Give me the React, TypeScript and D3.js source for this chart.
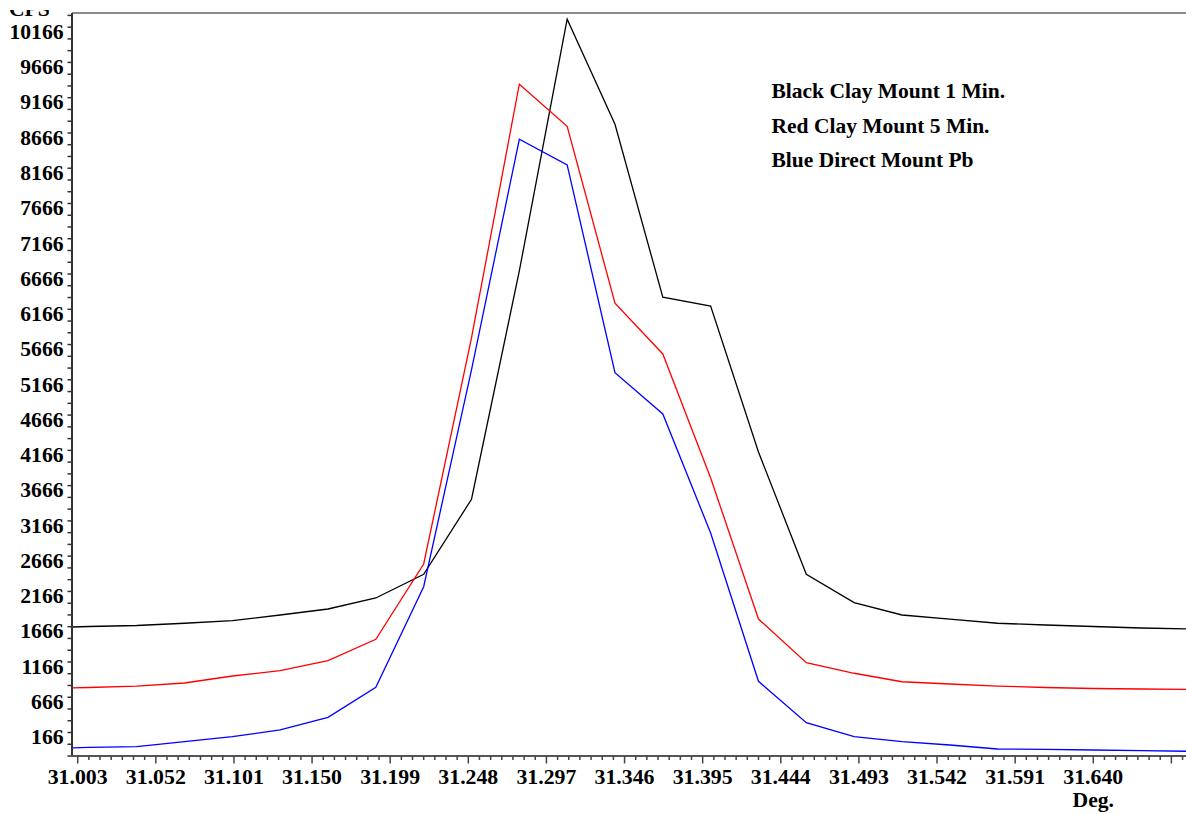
import React from "react";
import * as d3 from "d3";

// ---- data ----
const degrees = [
  30.98, 31.01, 31.04, 31.07, 31.1, 31.13, 31.16, 31.19, 31.22, 31.25, 31.28, 31.31, 31.34,
  31.37, 31.4, 31.43, 31.46, 31.49, 31.52, 31.55, 31.58, 31.61, 31.64, 31.67, 31.7,
];
const blackClay1Min = [
  1815, 1836, 1850, 1882, 1918, 1999, 2084, 2240, 2576, 3640, 6877, 10446, 8957, 6504, 6380,
  4310, 2576, 2174, 1999, 1942, 1882, 1857, 1836, 1815, 1801,
];
const redClay5Min = [
  957, 971, 992, 1035, 1134, 1209, 1351, 1655, 2722, 5927, 9524, 8928, 6419, 5700, 3942, 1942,
  1323, 1173, 1053, 1021, 992, 971, 957, 950, 943,
];
const blueDirectPb = [
  106, 121, 132, 203, 274, 369, 549, 974, 2400, 5473, 8744, 8380, 5435, 4849, 3162, 1059, 472,
  274, 203, 156, 99, 95, 85, 75, 67,
];
const xTickLabels = [
  "31.003", "31.052", "31.101", "31.150", "31.199", "31.248", "31.297", "31.346", "31.395",
  "31.444", "31.493", "31.542", "31.591", "31.640",
];
const yTickLabels = [
  "166", "666", "1166", "1666", "2166", "2666", "3166", "3666", "4166", "4666", "5166", "5666",
  "6166", "6666", "7166", "7666", "8166", "8666", "9166", "9666", "10166",
];
const legendLines = ["Black Clay Mount 1 Min.", "Red Clay Mount 5 Min.", "Blue Direct Mount Pb"];
const seriesColors = ["#000000", "#ff0000", "#0000ff"];

// ---- layout ----
const W = 1186;
const H = 814;
const left = 72;
const top = 13;
const bottom = 756;
const xMin = 30.99942;
const xMax = 31.7;
const yMax = 10534;
const FONT = "'Liberation Serif', 'Times New Roman', serif";

export default function App() {
  const x = d3.scaleLinear().domain([xMin, xMax]).range([left, left + (xMax - xMin) * 1594.3]);
  const y = d3.scaleLinear().domain([0, yMax]).range([bottom, top]);

  const series = [blackClay1Min, redClay5Min, blueDirectPb];
  const line = d3
    .line<number>()
    .x((_, i) => x(degrees[i]))
    .y((d) => y(d));

  // y ticks every 500/3 units
  const yStep = 500 / 3;
  const yTicks: number[] = [];
  for (let k = 0; k * yStep <= yMax; k++) yTicks.push(k * yStep);

  // x ticks every 0.007 deg
  const xTicks: { v: number; major: boolean }[] = [];
  for (let k = 0; ; k++) {
    const v = 31.003 + 0.007 * k;
    if (x(v) > W + 2) break;
    xTicks.push({ v, major: k % 7 === 0 });
  }

  return (
    <svg
      width={W}
      height={H}
      style={{ position: "absolute", left: 0, top: 0, background: "#fff" }}
      fontFamily={FONT}
      fontWeight="bold"
    >
      <defs>
        <clipPath id="plot">
          <rect x={left} y={top} width={W - left + 10} height={bottom - top} />
        </clipPath>
        <clipPath id="topclip">
          <rect x={0} y={10} width={200} height={40} />
        </clipPath>
      </defs>
      <rect x={0} y={0} width={W} height={H} fill="#fff" />

      {/* top border */}
      <line x1={left} x2={W} y1={top} y2={top} stroke="#666" strokeWidth={1.5} />

      {/* data lines */}
      <g clipPath="url(#plot)">
        {series.map((s, i) => (
          <path key={i} d={line(s) || ""} fill="none" stroke={seriesColors[i]} strokeWidth={1.3} />
        ))}
      </g>

      {/* y axis */}
      <line x1={left} x2={left} y1={top} y2={bottom} stroke="#333" strokeWidth={2} />
      {yTicks.map((v, k) => (
        <line key={k} x1={left - 4.5} x2={left} y1={y(v)} y2={y(v)} stroke="#333" strokeWidth={1.5} />
      ))}
      {yTickLabels.map((lab, i) => (
        <text key={lab} x={63.5} y={y((1 + 3 * i) * yStep)} textAnchor="end" fontSize={21.6} fill="#000">
          {lab}
        </text>
      ))}
      <text x={9} y={15.7} fontSize={21.6} fill="#000" clipPath="url(#topclip)">
        CPS
      </text>

      {/* x axis */}
      <line x1={left - 1} x2={W} y1={bottom} y2={bottom} stroke="#555" strokeWidth={2} />
      {xTicks.map((t, k) => (
        <line
          key={k}
          x1={x(t.v)}
          x2={x(t.v)}
          y1={bottom}
          y2={bottom + (t.major ? 7.5 : 4)}
          stroke="#444"
          strokeWidth={1.5}
        />
      ))}
      {xTickLabels.map((lab) => (
        <text key={lab} x={x(+lab)} y={784.3} textAnchor="middle" fontSize={21.8} fill="#000">
          {lab}
        </text>
      ))}
      <text x={x(31.64)} y={807.3} textAnchor="middle" fontSize={21.6} fill="#000">
        Deg.
      </text>

      {/* legend */}
      {legendLines.map((t, i) => (
        <text key={t} x={771.5} y={98.3 + i * 34.3} fontSize={21.5} fill="#000">
          {t}
        </text>
      ))}
    </svg>
  );
}
